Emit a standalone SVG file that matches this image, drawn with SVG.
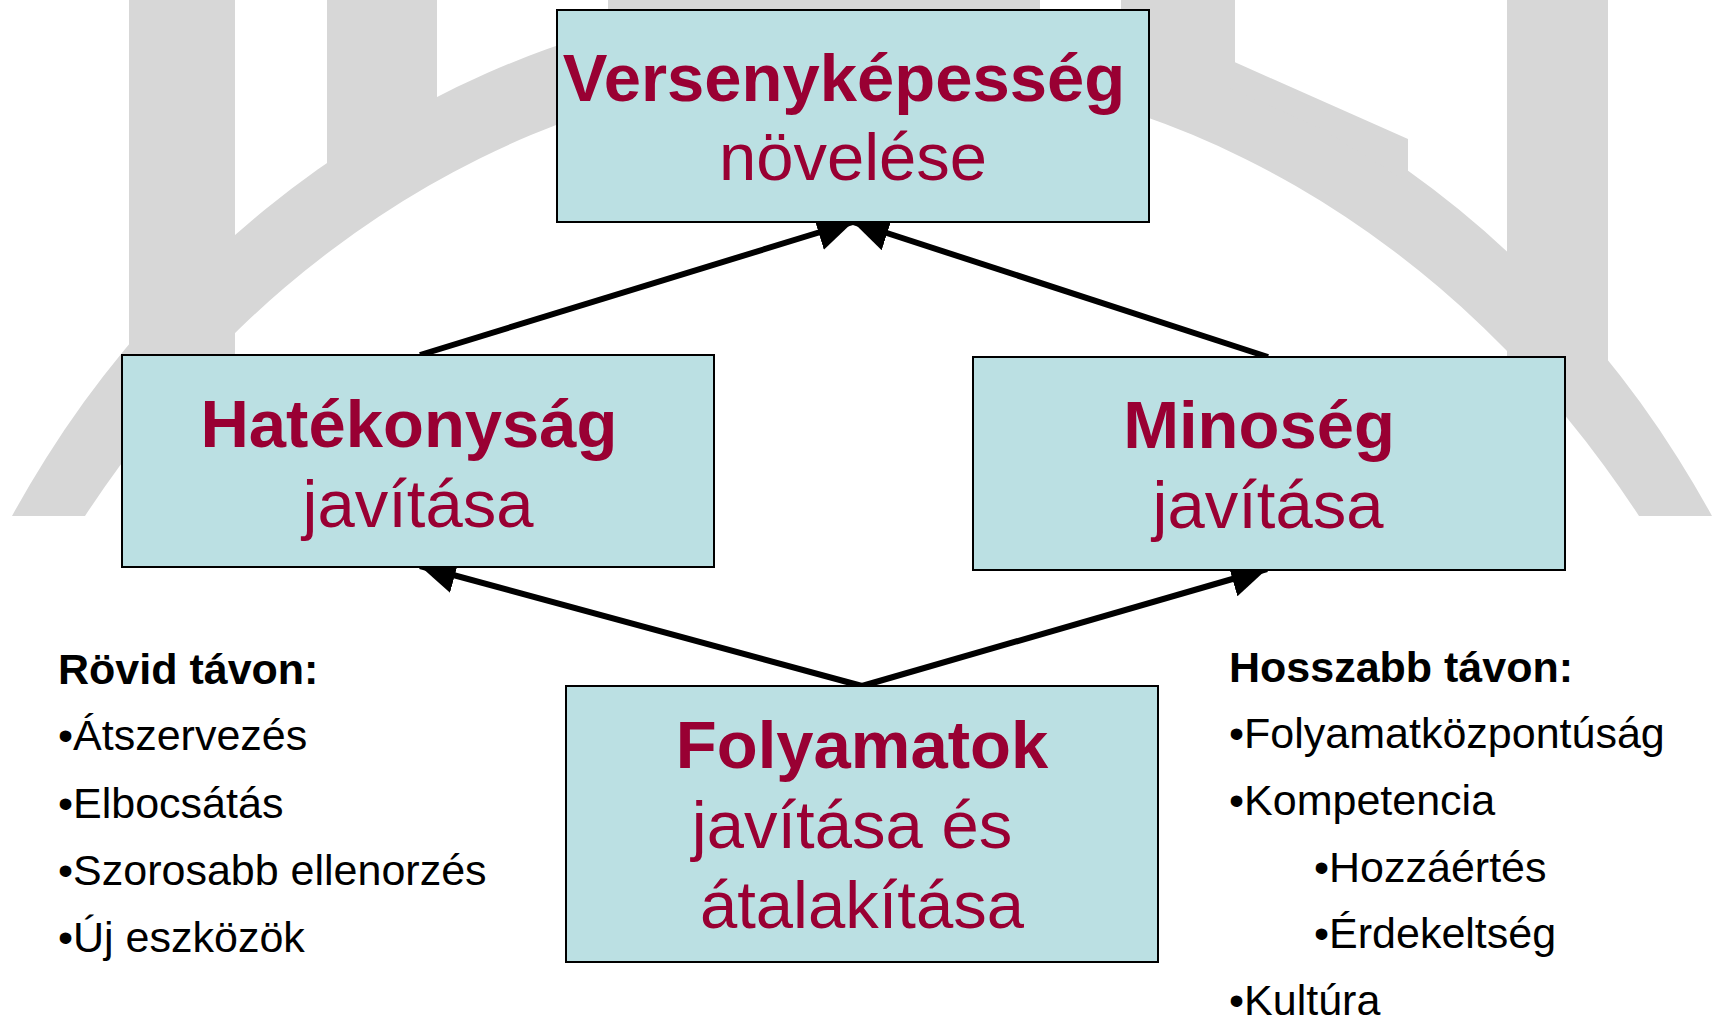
<svg xmlns="http://www.w3.org/2000/svg" width="1713" height="1022" viewBox="0 0 1713 1022">
  <style>
    .logo { fill: #d7d7d7; }
    .box { fill: #bbe0e3; stroke: #000; stroke-width: 2; }
    .t { font-family: "Liberation Sans", Arial, sans-serif; font-size: 67px; fill: #990033; text-anchor: middle; }
    .b { font-weight: bold; }
    .list { font-family: "Liberation Sans", Arial, sans-serif; font-size: 43px; fill: #000; }
    .edge { stroke: #000; stroke-width: 6; fill: none; marker-end: url(#arrow); }
  </style>
  <defs>
    <marker id="arrow" markerUnits="userSpaceOnUse" markerWidth="38" markerHeight="36" refX="36" refY="18" orient="auto">
      <path d="M0,0 L36,18 L0,36 Z" fill="#000"/>
    </marker>
  </defs>

  <!-- background emblem: arch band with pillars -->
  <g id="emblem">
    <path class="logo" d="M 12 516 A 985 1056 0 0 1 1712 516 L 1639 516 A 975 1132 0 0 0 85 516 Z"/>
    <rect class="logo" x="129" y="0" width="106" height="370"/>
    <rect class="logo" x="327" y="0" width="110" height="175"/>
    <rect class="logo" x="1121" y="0" width="114" height="100"/>
    <rect class="logo" x="1507" y="0" width="101" height="370"/>
    <rect class="logo" x="608" y="0" width="432" height="30"/>
    <polygon class="logo" points="1230,60 1408,139 1408,182 1320,128 1230,88"/>
  </g>

  <!-- connectors -->
  <g id="connectors">
    <line class="edge" x1="420" y1="355" x2="853" y2="222"/>
    <line class="edge" x1="1268" y1="357" x2="853" y2="222"/>
    <line class="edge" x1="862" y1="686" x2="420" y2="566"/>
    <line class="edge" x1="862" y1="686" x2="1267" y2="569"/>
  </g>

  <g id="versenykepesseg">
    <rect class="box" x="557" y="10" width="592" height="212"/>
    <text class="t b" x="844" y="101">Versenyképesség</text>
    <text class="t" x="853" y="180">növelése</text>
  </g>

  <g id="hatekonysag">
    <rect class="box" x="122" y="355" width="592" height="212"/>
    <text class="t b" x="409" y="447">Hatékonyság</text>
    <text class="t" x="418" y="527">javítása</text>
  </g>

  <g id="minoseg">
    <rect class="box" x="973" y="357" width="592" height="213"/>
    <text class="t b" x="1259" y="448">Minoség</text>
    <text class="t" x="1268" y="528">javítása</text>
  </g>

  <g id="folyamatok">
    <rect class="box" x="566" y="686" width="592" height="276"/>
    <text class="t b" x="862" y="768">Folyamatok</text>
    <text class="t" x="852" y="848">javítása és</text>
    <text class="t" x="862" y="928">átalakítása</text>
  </g>

  <g id="rovid-tavon" class="list">
    <text x="58" y="684" font-weight="bold">Rövid távon:</text>
    <text x="58" y="750">•Átszervezés</text>
    <text x="58" y="818">•Elbocsátás</text>
    <text x="58" y="885">•Szorosabb ellenorzés</text>
    <text x="58" y="952">•Új eszközök</text>
  </g>

  <g id="hosszabb-tavon" class="list">
    <text x="1229" y="682" font-weight="bold">Hosszabb távon:</text>
    <text x="1229" y="748">•Folyamatközpontúság</text>
    <text x="1229" y="815">•Kompetencia</text>
    <text x="1314" y="882">•Hozzáértés</text>
    <text x="1314" y="948">•Érdekeltség</text>
    <text x="1229" y="1015">•Kultúra</text>
  </g>
</svg>
